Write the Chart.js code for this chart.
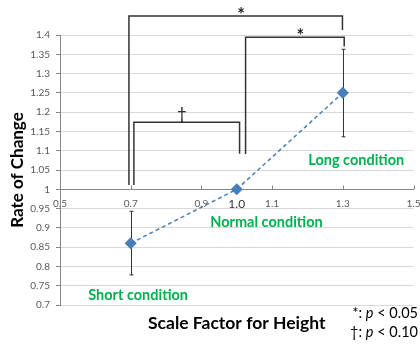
<!DOCTYPE html>
<html>
<head>
<meta charset="utf-8">
<script src="https://cdn.jsdelivr.net/npm/chart.js@4.4.0/dist/chart.umd.min.js"></script>
<style>
  html, body { margin: 0; padding: 0; background: #fff; }
</style>
</head>
<body>
<canvas id="chart" width="420" height="345"></canvas>
<script>
// Chart data
const scaleFactors = [0.7, 1.0, 1.3];
const rateOfChange = [0.86, 1.0, 1.25];
const errorLow = [0.778, 1.0, 1.136];
const errorHigh = [0.943, 1.0, 1.363];
const conditionNames = ['Short condition', 'Normal condition', 'Long condition'];
const xTickValues = [0.5, 0.7, 0.9, 1.0, 1.1, 1.3, 1.5];
const xMajorTicks = [0.5, 0.7, 0.9, 1.1, 1.3, 1.5];

// Annotation placement, in data units
const conditionLabelAt = [[0.721, 0.726], [1.084, 0.915], [1.338, 1.076]];
const brackets = [
  { text: '*', x1: 0.695, x2: 1.299, top: 1.449, leg1: 1.011, leg2: 1.413, textX: 1.012 },
  { text: '*', x1: 1.025, x2: 1.304, top: 1.394, leg1: 1.0915, leg2: 1.37, textX: 1.18 },
  { text: '\u2020', x1: 0.709, x2: 1.008, top: 1.174, leg1: 1.011, leg2: 1.092, textX: 0.845 },
];

const FONT = 'Lato, "Open Sans", sans-serif';
const GREEN = '#00b050';
const BLUE = '#4a7ebb';

// Error bars, tick marks, condition labels, brackets and the p-value note
const overlay = {
  id: 'overlay',
  beforeDatasetsDraw(chart) {
    const { ctx, scales: { x, y } } = chart;
    ctx.save();
    ctx.strokeStyle = '#333';
    ctx.lineWidth = 1;
    scaleFactors.forEach((v, i) => {
      if (errorLow[i] === errorHigh[i]) return;
      const px = Math.round(x.getPixelForValue(v)) + 0.5;
      const lo = y.getPixelForValue(errorLow[i]);
      const hi = y.getPixelForValue(errorHigh[i]);
      ctx.beginPath();
      ctx.moveTo(px, lo); ctx.lineTo(px, hi);
      ctx.moveTo(px - 2, lo); ctx.lineTo(px + 2, lo);
      ctx.moveTo(px - 2, hi); ctx.lineTo(px + 2, hi);
      ctx.stroke();
    });
    // small tick marks pointing up from the x axis
    ctx.strokeStyle = '#868686';
    const axisY = Math.round(y.getPixelForValue(1.0)) + 0.5;
    xMajorTicks.forEach((v) => {
      const px = Math.round(x.getPixelForValue(v)) + 0.5;
      ctx.beginPath();
      ctx.moveTo(px, axisY); ctx.lineTo(px, axisY - 4);
      ctx.stroke();
    });
    ctx.restore();
  },
  afterDraw(chart) {
    const { ctx, scales: { x, y } } = chart;
    ctx.save();
    // condition labels
    ctx.fillStyle = GREEN;
    ctx.font = 'bold 14.5px ' + FONT;
    ctx.textAlign = 'center';
    ctx.textBaseline = 'middle';
    conditionNames.forEach((name, i) => {
      const [lx, ly] = conditionLabelAt[i];
      ctx.fillText(name, x.getPixelForValue(lx), y.getPixelForValue(ly));
    });
    // significance brackets
    ctx.strokeStyle = '#333';
    ctx.lineWidth = 1.5;
    ctx.fillStyle = '#222';
    ctx.textBaseline = 'alphabetic';
    brackets.forEach((b) => {
      const l = x.getPixelForValue(b.x1);
      const r = x.getPixelForValue(b.x2);
      const t = y.getPixelForValue(b.top);
      ctx.beginPath();
      ctx.moveTo(l, y.getPixelForValue(b.leg1));
      ctx.lineTo(l, t);
      ctx.lineTo(r, t);
      ctx.lineTo(r, y.getPixelForValue(b.leg2));
      ctx.stroke();
      const star = b.text === '*';
      ctx.font = (star ? 'bold 18px ' : '17px ') + FONT;
      ctx.fillText(b.text, x.getPixelForValue(b.textX), t + (star ? 5 : -2));
    });
    // p-value note
    ctx.fillStyle = '#000';
    ctx.textAlign = 'left';
    const notes = [['*: ', '< 0.05', 318], ['\u2020: ', '< 0.10', 337]];
    notes.forEach(([head, tail, ny]) => {
      ctx.font = '14.5px ' + FONT;
      const w1 = ctx.measureText(head).width;
      const w3 = ctx.measureText(' ' + tail).width;
      ctx.font = 'italic 14.5px ' + FONT;
      const w2 = ctx.measureText('p').width;
      const nx = 418 - (w1 + w2 + w3);
      ctx.font = '14.5px ' + FONT;
      ctx.fillText(head, nx, ny);
      ctx.font = 'italic 14.5px ' + FONT;
      ctx.fillText('p', nx + w1, ny);
      ctx.font = '14.5px ' + FONT;
      ctx.fillText(' ' + tail, nx + w1 + w2, ny);
    });
    ctx.restore();
  }
};

new Chart(document.getElementById('chart'), {
  type: 'line',
  data: {
    datasets: [{
      data: scaleFactors.map((v, i) => ({ x: v, y: rateOfChange[i] })),
      borderColor: BLUE,
      borderWidth: 1.5,
      borderDash: [4, 3],
      pointStyle: 'rectRot',
      pointRadius: 5,
      pointBackgroundColor: BLUE,
      pointBorderColor: BLUE,
      tension: 0,
    }],
  },
  options: {
    responsive: false,
    animation: false,
    layout: { padding: { left: 0, right: 5, top: 35, bottom: 0 } },
    plugins: {
      legend: { display: false },
      tooltip: { enabled: false },
      title: {
        display: true,
        position: 'bottom',
        fullSize: false,
        text: 'Scale Factor for Height',
        color: '#000',
        font: { family: FONT, size: 17.5, weight: 'bold' },
        padding: { top: 7.5, bottom: 11.5 },
      },
    },
    scales: {
      x: {
        type: 'linear',
        position: { y: 1.0 },
        min: 0.5,
        max: 1.5,
        afterBuildTicks(scale) {
          scale.ticks = xTickValues.map((v) => ({ value: v }));
        },
        afterFit(scale) {
          scale.paddingLeft = 0;
          scale.paddingRight = 0;
        },
        grid: { display: false, drawTicks: false },
        border: { display: true, color: '#868686', width: 1 },
        ticks: {
          autoSkip: false,
          maxRotation: 0,
          padding: 8,
          callback: (v) => Number(v).toFixed(1),
          color: (c) => (c.tick && c.tick.value === 1.0 ? '#333' : '#595959'),
          font: (c) => ({ family: FONT, size: c.tick && c.tick.value === 1.0 ? 12 : 10 }),
        },
      },
      y: {
        type: 'linear',
        position: 'left',
        min: 0.7,
        max: 1.4,
        afterFit(scale) {
          scale.width = 60;
        },
        grid: { color: '#d9d9d9', tickColor: '#868686', tickLength: 4 },
        border: { color: '#868686' },
        ticks: {
          stepSize: 0.05,
          padding: 6,
          color: '#595959',
          font: { family: FONT, size: 10 },
          callback: (v) => String(Math.round(v * 100) / 100),
        },
        title: {
          display: true,
          text: 'Rate of Change',
          color: '#000',
          font: { family: FONT, size: 17, weight: 'bold' },
          padding: { top: 7, bottom: 0 },
        },
      },
    },
  },
  plugins: [overlay],
});
</script>
</body>
</html>
